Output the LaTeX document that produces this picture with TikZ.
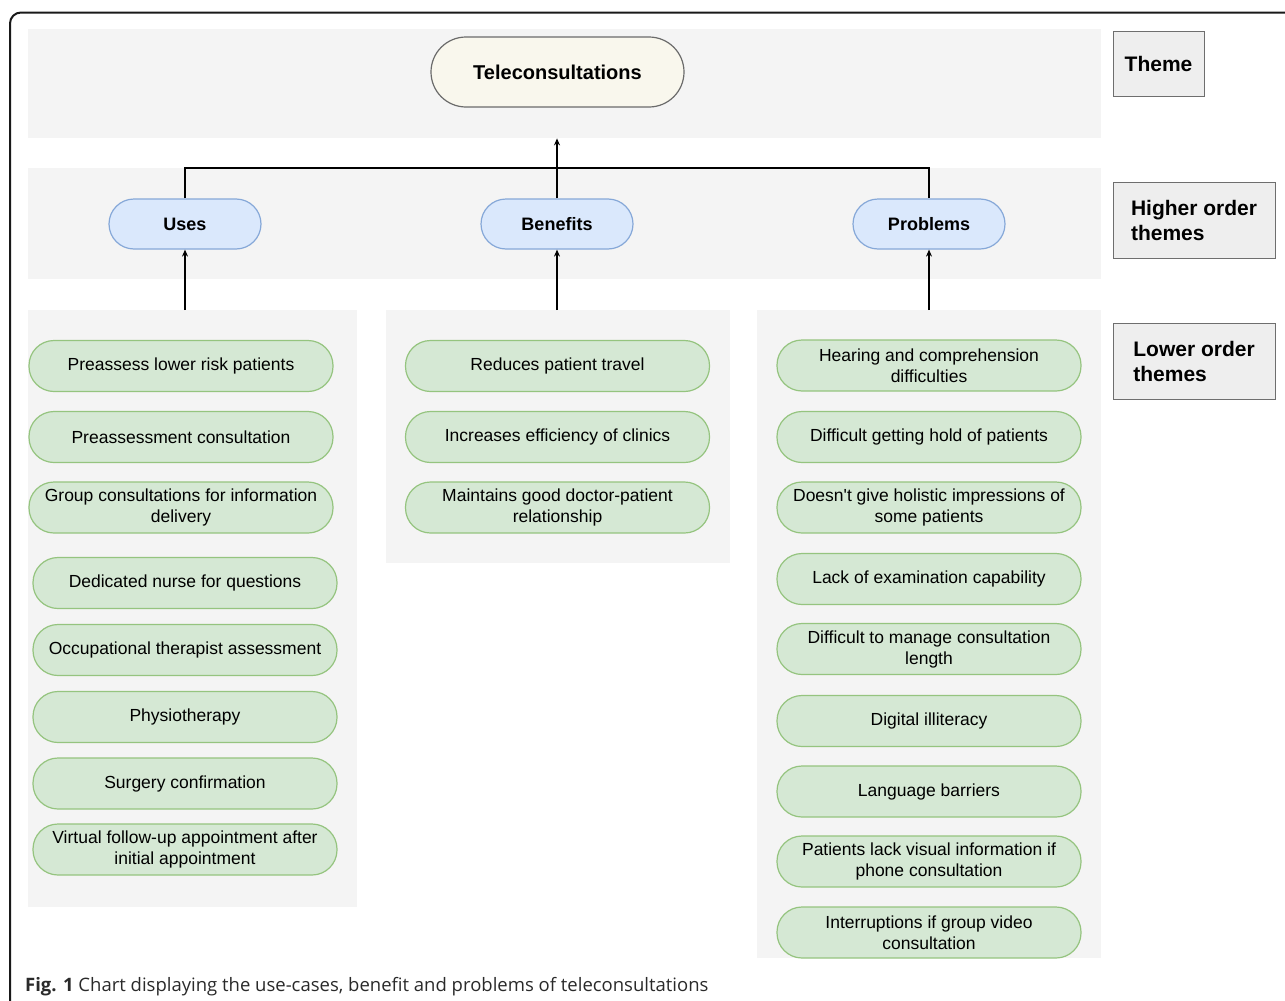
\documentclass[tikz,border=0pt]{standalone}
\usepackage{fontspec}
\setmainfont{Liberation Sans}[Ligatures=TeXOff]
\newfontfamily\capfont{Open Sans}
\usetikzlibrary{arrows.meta}

\definecolor{bandgray}{HTML}{F4F4F4}
\definecolor{creamfill}{HTML}{F9F7ED}
\definecolor{creamline}{HTML}{6B6B6B}
\definecolor{bluefill}{HTML}{DAE8FC}
\definecolor{blueline}{HTML}{86A8D8}
\definecolor{greenfill}{HTML}{D5E8D4}
\definecolor{greenline}{HTML}{95C47F}
\definecolor{keyfill}{HTML}{EEEEEE}
\definecolor{keyline}{HTML}{6E6E6E}
\definecolor{captext}{HTML}{2A2A2A}

\tikzset{
  band/.style={fill=bandgray, draw=none, inner sep=0pt, anchor=north west},
  themenode/.style={draw=creamline, fill=creamfill, line width=1.2pt,
    rounded corners=35pt, minimum width=253pt, minimum height=70pt, inner sep=0pt,
    font=\fontsize{20}{24}\selectfont\bfseries},
  highnode/.style={draw=blueline, fill=bluefill, line width=1.2pt,
    rounded corners=25pt, minimum width=152pt, minimum height=50pt, inner sep=0pt,
    font=\fontsize{18}{22}\selectfont\bfseries},
  lownode/.style={draw=greenline, fill=greenfill, line width=1.2pt,
    rounded corners=25pt, minimum width=304pt, minimum height=51pt, inner sep=0pt,
    align=center, font=\fontsize{17.5}{21}\selectfont},
  keynode/.style={draw=keyline, fill=keyfill, line width=1.1pt, inner sep=0pt,
    anchor=north west, align=left, font=\fontsize{21}{25}\selectfont\bfseries},
  link/.style={line width=1.2pt, black},
  uparrow/.style={link, -{Stealth[length=7pt, width=6pt]}}
}

\begin{document}
\begin{tikzpicture}[x=1pt, y=-1pt]
\useasboundingbox (0,0) rectangle (1285,1001);
\clip (0,0) rectangle (1285,1001);

% outer frame (continues past the right and bottom edges)
\draw[line width=2pt, black!90, rounded corners=11pt] (10,12.5) rectangle (1320,1040);

% background bands
\node[band, minimum width=1073pt, minimum height=109pt] (bandT) at (28,29) {};
\node[band, minimum width=1073pt, minimum height=111pt] (bandH) at (28,168) {};
\node[band, minimum width=329pt, minimum height=597pt] (bandU) at (28,310) {};
\node[band, minimum width=344pt, minimum height=253pt] (bandB) at (386,310) {};
\node[band, minimum width=344pt, minimum height=648pt] (bandP) at (757,310) {};

% theme
\node[themenode] (tele) at (557.5,72) {Teleconsultations};

% higher order themes
\node[highnode] (uses) at (185,224) {Uses};
\node[highnode] (ben) at (557,224) {Benefits};
\node[highnode] (prob) at (929,224) {Problems};

% lower order themes: uses
\node[lownode] (u1) at (181,366) {Preassess lower risk patients};
\node[lownode] (u2) at (181,437) {Preassessment consultation};
\node[lownode] (u3) at (181,507.5) {Group consultations for information\\delivery};
\node[lownode] (u4) at (185,583) {Dedicated nurse for questions};
\node[lownode] (u5) at (185,650) {Occupational therapist assessment};
\node[lownode] (u6) at (185,717) {Physiotherapy};
\node[lownode] (u7) at (185,783.5) {Surgery confirmation};
\node[lownode] (u8) at (185,849.5) {Virtual follow-up appointment after\\initial appointment};

% lower order themes: benefits
\node[lownode] (b1) at (557.5,366) {Reduces patient travel};
\node[lownode] (b2) at (557.5,437) {Increases efficiency of clinics};
\node[lownode] (b3) at (557.5,507.5) {Maintains good doctor-patient\\relationship};

% lower order themes: problems
\node[lownode] (p1) at (929,365.5) {Hearing and comprehension\\difficulties};
\node[lownode] (p2) at (929,437) {Difficult getting hold of patients};
\node[lownode] (p3) at (929,507.5) {Doesn't give holistic impressions of\\some patients};
\node[lownode] (p4) at (929,579) {Lack of examination capability};
\node[lownode] (p5) at (929,649) {Difficult to manage consultation\\length};
\node[lownode] (p6) at (929,721) {Digital illiteracy};
\node[lownode] (p7) at (929,791.5) {Language barriers};
\node[lownode] (p8) at (929,861.5) {Patients lack visual information if\\phone consultation};
\node[lownode] (p9) at (929,932.5) {Interruptions if group video\\consultation};

% key on the right
\node[keynode, minimum width=91pt, minimum height=65pt] (kT) at (1112.5,30.5) {Theme};
\node[keynode, minimum width=162pt, minimum height=76pt] (kH) at (1112.5,181.5) {Higher order\\themes};
\node[keynode, minimum width=162pt, minimum height=76pt] (kL) at (1112.5,322.5) {Lower order\\themes};

% connectors
\draw[link] (uses.north) -- (uses.north |- bandH.north) -- (prob.north |- bandH.north) -- (prob.north);
\draw[uparrow] (ben.north) -- (ben.north |- bandT.south);
\draw[uparrow] (uses |- bandU.north) -- (uses.south);
\draw[uparrow] (ben |- bandB.north) -- (ben.south);
\draw[uparrow] (prob |- bandP.north) -- (prob.south);

% caption
\node[anchor=base west, inner sep=0pt, text=captext, font=\capfont\fontsize{18.5}{22}\selectfont] (cap) at (25,991)
  {\textbf{Fig. 1} Chart displaying the use-cases, benefit and problems of teleconsultations};
\end{tikzpicture}
\end{document}
